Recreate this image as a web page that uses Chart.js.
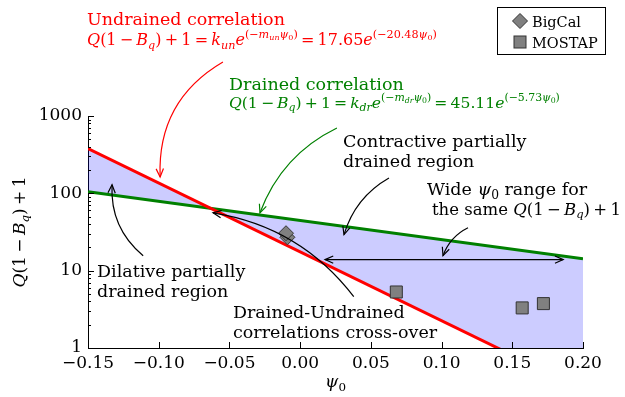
<!doctype html>
<html>
<head>
  <meta charset="utf-8">
  <title>Q(1-Bq)+1 vs psi0</title>
  <script src="https://cdn.jsdelivr.net/npm/chart.js"></script>
  <style>
    html, body { margin: 0; padding: 0; background: #fff; }
    canvas { display: block; }
  </style>
</head>
<body>
  <canvas id="chart" width="625" height="397"></canvas>
  <script>
    // data
    const psiEnds = [-0.15, 0.20];
    const undrainedEnds = [380, 0.29];   // red line, runs below the axis at the right
    const drainedEnds = [105, 14.3];     // green line
    const bigcalPsi = [-0.009, -0.010];
    const bigcalQ = [27, 30.5];
    const mostapPsi = [0.068, 0.157, 0.172];
    const mostapQ = [5.3, 3.3, 3.75];
    const xTicks = [-0.15, -0.10, -0.05, 0.00, 0.05, 0.10, 0.15, 0.20];
    const yTicks = [1, 10, 100, 1000];

    const SERIF = '"DejaVu Serif", serif';
    const RED = '#ff0000', GREEN = '#008000';

    // math pieces: [text, italic, level]  level 0 base, -1 sub, 1 sup, 2 sub inside sup
    // a single ' ' piece is a thin math gap
    const undrainedEq = [['Q',1],['(1',0],[' '],['−',0],[' '],['B',1],['q',1,-1],[')',0],[' '],['+',0],[' '],['1',0],[' '],['=',0],[' '],
      ['k',1],['un',1,-1],['e',1],['(−',0,1],['m',1,1],['un',1,2],['ψ',1,1],['0',0,2],[')',0,1],[' '],['=',0],[' '],['17.65',0],['e',1],
      ['(−20.48',0,1],['ψ',1,1],['0',0,2],[')',0,1]];
    const drainedEq = [['Q',1],['(1',0],[' '],['−',0],[' '],['B',1],['q',1,-1],[')',0],[' '],['+',0],[' '],['1',0],[' '],['=',0],[' '],
      ['k',1],['dr',1,-1],['e',1],['(−',0,1],['m',1,1],['dr',1,2],['ψ',1,1],['0',0,2],[')',0,1],[' '],['=',0],[' '],['45.11',0],['e',1],
      ['(−5.73',0,1],['ψ',1,1],['0',0,2],[')',0,1]];
    const qLabel = [['Q',1],['(1',0],[' '],['−',0],[' '],['B',1],['q',1,-1],[')',0],[' '],['+',0],[' '],['1',0]];

    const texts = [
      { at: [-0.1507, 14930], lines: [[['Undrained correlation',0]]], color: RED, size: 17.5 },
      { at: [-0.1507, 8245], lines: [undrainedEq], color: RED, size: 16 },
      { at: [-0.0503, 2163], lines: [[['Drained correlation',0]]], color: GREEN, size: 17.5 },
      { at: [-0.0503, 1268], lines: [drainedEq], color: GREEN, size: 15.6 },
      { at: [0.0303, 398], lines: [[['Contractive partially',0]], [['drained region',0]]], color: 'black', size: 17.5 },
      { at: [0.0897, 95.7], lines: [[['Wide ',0],['ψ',1],['0',0,-1],[' range for',0]]], color: 'black', size: 17.5 },
      { at: [0.0932, 52.8], lines: [[['the same ',0]].concat(qLabel)], color: 'black', size: 16.5 },
      { at: [-0.1436, 8.37], lines: [[['Dilative partially',0]], [['drained region',0]]], color: 'black', size: 17.5 },
      { at: [-0.0475, 2.47], lines: [[['Drained-Undrained',0]], [['correlations cross-over',0]]], color: 'black', size: 17.5 }
    ];

    // arrows: tail -> head, in data units, rad = arc bend
    const arrows = [
      { from: [-0.0546, 4980], to: [-0.099, 163], rad: -0.3, color: RED },
      { from: [0.026, 700], to: [-0.0284, 56], rad: -0.2, color: GREEN },
      { from: [0.0628, 158], to: [0.031, 29.2], rad: -0.2, color: 'black' },
      { from: [0.1187, 35.9], to: [0.101, 15.6], rad: -0.2, color: 'black' },
      { from: [0.0176, 13.9], to: [0.186, 13.9], rad: 0, color: 'black', both: true },
      { from: [-0.111, 15.6], to: [-0.133, 129], rad: 0.25, color: 'black' },
      { from: [0.0379, 4.62], to: [-0.0616, 56], rad: -0.2, color: 'black' }
    ];

    function drawMath(ctx, x, y, parts, size, color, measureOnly) {
      let cx = x;
      for (const [t, it, lvl = 0] of parts) {
        if (t === ' ') { cx += size * 0.2; continue; }
        const s = lvl === 0 ? size : (lvl === 2 ? size * 0.5 : size * 0.7);
        const dy = lvl === 1 ? -size * 0.45 : lvl === -1 ? size * 0.22 : lvl === 2 ? -size * 0.3 : 0;
        ctx.font = (it ? 'italic ' : '') + s + 'px ' + SERIF;
        if (!measureOnly) { ctx.fillStyle = color; ctx.fillText(t, cx, y + dy); }
        cx += ctx.measureText(t).width;
      }
      return cx - x;
    }

    function head(ctx, x, y, a) {
      const L = 9, w = 0.42;
      ctx.beginPath();
      ctx.moveTo(x - L * Math.cos(a - w), y - L * Math.sin(a - w));
      ctx.lineTo(x, y);
      ctx.lineTo(x - L * Math.cos(a + w), y - L * Math.sin(a + w));
      ctx.stroke();
    }

    function drawArrow(ctx, x1, y1, x2, y2, rad, color, both) {
      const mx = (x1 + x2) / 2, my = (y1 + y2) / 2, dx = x2 - x1, dy = y2 - y1;
      const cx = mx + rad * dy, cy = my - rad * dx;
      ctx.strokeStyle = color;
      ctx.lineWidth = 1.2;
      ctx.beginPath();
      ctx.moveTo(x1, y1);
      ctx.quadraticCurveTo(cx, cy, x2, y2);
      ctx.stroke();
      head(ctx, x2, y2, Math.atan2(y2 - cy, x2 - cx));
      if (both) head(ctx, x1, y1, Math.atan2(y1 - cy, x1 - cx));
    }

    const extras = {
      id: 'extras',
      afterDraw(chart) {
        const ctx = chart.ctx, xs = chart.scales.x, ys = chart.scales.y, area = chart.chartArea;
        const P = (a) => [xs.getPixelForValue(a[0]), ys.getPixelForValue(a[1])];
        ctx.save();
        ctx.textBaseline = 'alphabetic';
        ctx.textAlign = 'left';

        // inward ticks
        ctx.strokeStyle = '#000';
        ctx.lineWidth = 1;
        ctx.beginPath();
        xTicks.forEach(v => {
          const px = Math.round(xs.getPixelForValue(v)) + 0.5;
          ctx.moveTo(px, area.bottom); ctx.lineTo(px, area.bottom - 6);
        });
        for (let d = 0; d < 3; d++) {
          for (let k = 1; k <= 10; k++) {
            const v = k * Math.pow(10, d);
            const py = Math.round(ys.getPixelForValue(v)) + 0.5;
            const len = (k === 1 || k === 10) ? 6 : 3;
            ctx.moveTo(area.left, py); ctx.lineTo(area.left + len, py);
          }
        }
        ctx.stroke();

        // annotations
        texts.forEach(n => {
          const [x, y] = P(n.at);
          n.lines.forEach((ln, i) => drawMath(ctx, x, y + i * 20, ln, n.size, n.color));
        });
        arrows.forEach(a => {
          const [x1, y1] = P(a.from), [x2, y2] = P(a.to);
          drawArrow(ctx, x1, y1, x2, y2, a.rad, a.color, a.both);
        });

        // axis titles
        const psiLabel = [['ψ',1],['0',0,-1]];
        const wx = drawMath(ctx, 0, 0, psiLabel, 17, '#000', true);
        drawMath(ctx, (area.left + area.right) / 2 - wx / 2, 387, psiLabel, 17, '#000');
        const wy = drawMath(ctx, 0, 0, qLabel, 17, '#000', true);
        ctx.save();
        ctx.translate(25, (area.top + area.bottom) / 2);
        ctx.rotate(-Math.PI / 2);
        drawMath(ctx, -wy / 2, 0, qLabel, 17, '#000');
        ctx.restore();

        // legend
        ctx.fillStyle = '#fff';
        ctx.fillRect(497.5, 7.5, 108, 47);
        ctx.strokeStyle = '#000';
        ctx.lineWidth = 1;
        ctx.strokeRect(497.5, 7.5, 108, 47);
        const ds = chart.data.datasets;
        ctx.fillStyle = ds[2].backgroundColor;
        ctx.strokeStyle = ds[2].borderColor;
        ctx.beginPath();
        ctx.moveTo(520, 13.5); ctx.lineTo(527.5, 21); ctx.lineTo(520, 28.5); ctx.lineTo(512.5, 21); ctx.closePath();
        ctx.fill(); ctx.stroke();
        ctx.fillStyle = ds[3].backgroundColor;
        ctx.strokeStyle = ds[3].borderColor;
        ctx.fillRect(514, 36, 12, 12);
        ctx.strokeRect(514, 36, 12, 12);
        ctx.fillStyle = '#000';
        ctx.font = '14.5px ' + SERIF;
        ctx.fillText(ds[2].label, 532, 26.5);
        ctx.fillText(ds[3].label, 532, 47.5);
        ctx.restore();
      }
    };

    const toXY = (xsArr, ysArr) => xsArr.map((x, i) => ({ x, y: ysArr[i] }));

    new Chart(document.getElementById('chart'), {
      type: 'scatter',
      data: {
        datasets: [
          {
            label: 'Undrained correlation',
            data: toXY(psiEnds, undrainedEnds),
            showLine: true, borderColor: RED, borderWidth: 3, pointRadius: 0,
            backgroundColor: 'rgba(0,0,255,0.2)',
            fill: { target: 1, above: 'rgba(0,0,255,0.2)', below: 'rgba(0,0,255,0.2)' },
            order: 1
          },
          {
            label: 'Drained correlation',
            data: toXY(psiEnds, drainedEnds),
            showLine: true, borderColor: GREEN, borderWidth: 3, pointRadius: 0,
            fill: false, order: 1
          },
          {
            label: 'BigCal',
            data: toXY(bigcalPsi, bigcalQ),
            pointStyle: 'rectRot', pointRadius: 7.5,
            backgroundColor: '#808080', borderColor: '#333', borderWidth: 1, order: 0
          },
          {
            label: 'MOSTAP',
            data: toXY(mostapPsi, mostapQ),
            pointStyle: 'rect', pointRadius: 8.5,
            backgroundColor: '#808080', borderColor: '#333', borderWidth: 1, order: 0
          }
        ]
      },
      options: {
        responsive: false,
        animation: false,
        layout: { padding: { top: 116, right: 42, left: 0, bottom: 0 } },
        plugins: {
          legend: { display: false },
          tooltip: { enabled: false },
          filler: { drawTime: 'beforeDatasetsDraw' }
        },
        scales: {
          x: {
            type: 'linear', min: -0.15, max: 0.20,
            grid: { display: false, drawTicks: false },
            border: { display: true, color: '#000', width: 1 },
            afterBuildTicks: s => { s.ticks = xTicks.map(v => ({ value: v })); },
            afterFit: s => { s.height = 49; },
            ticks: {
              color: '#000', padding: 5, maxRotation: 0, autoSkip: false,
              font: { family: SERIF, size: 17 },
              callback: v => v.toFixed(2).replace('-0.00', '0.00').replace('-', '−')
            }
          },
          y: {
            type: 'logarithmic', min: 1, max: 1000,
            grid: { display: false, drawTicks: false },
            border: { display: true, color: '#000', width: 1 },
            afterBuildTicks: s => { s.ticks = yTicks.map(v => ({ value: v })); },
            afterFit: s => { s.width = 88; },
            ticks: {
              color: '#000', padding: 6, autoSkip: false,
              font: { family: SERIF, size: 17 },
              callback: v => String(v)
            }
          }
        }
      },
      plugins: [extras]
    });
  </script>
</body>
</html>
